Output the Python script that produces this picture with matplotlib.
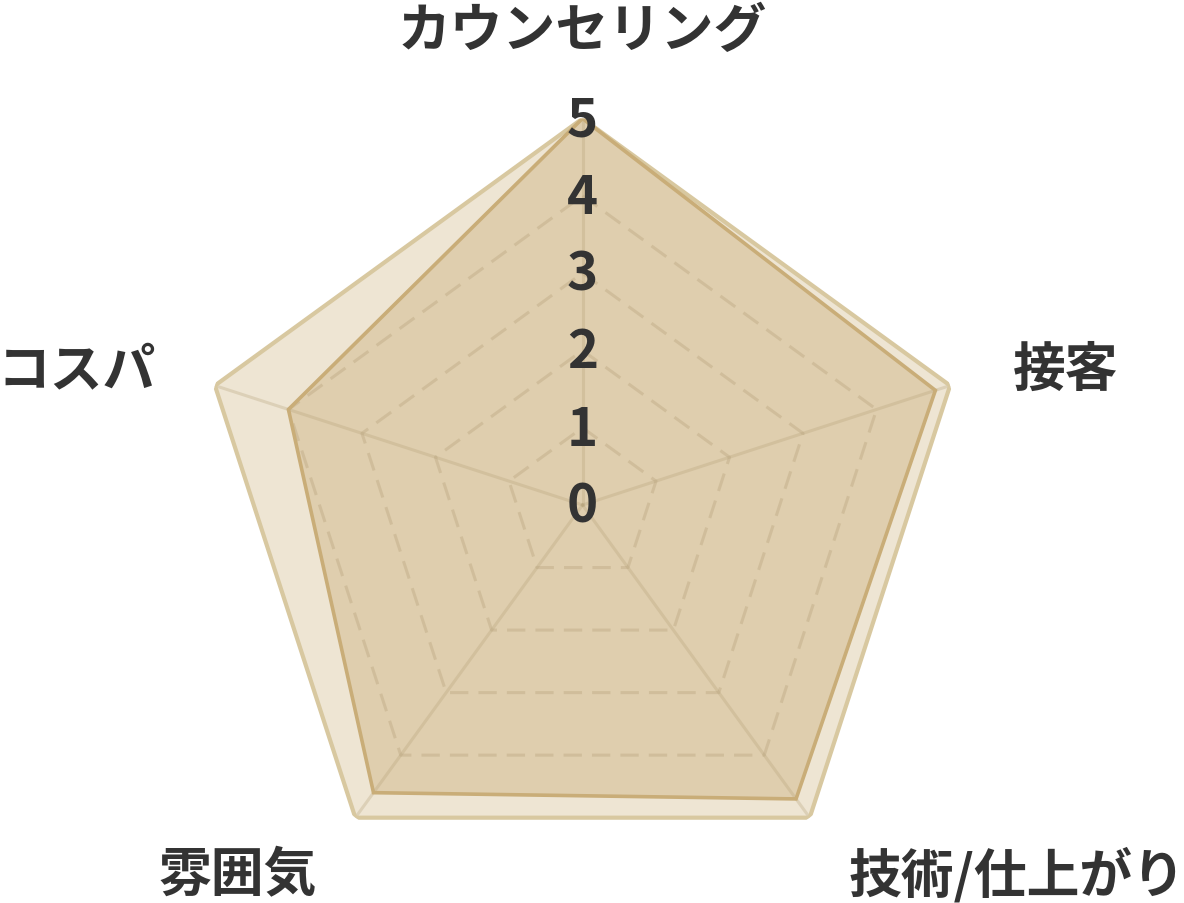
import numpy as np
import matplotlib
matplotlib.use("Agg")
import matplotlib.pyplot as plt

plt.rcParams['font.family'] = ['Noto Sans CJK JP', 'DejaVu Sans']

# data
categories = ['カウンセリング', '接客', '技術/仕上がり', '雰囲気', 'コスパ']
scores = [5.0, 4.8, 4.7, 4.6, 4.0]
max_scores = [5, 5, 5, 5, 5]
ticks = [0, 1, 2, 3, 4, 5]

n = len(categories)
theta = np.linspace(0, 2 * np.pi, n, endpoint=False)
theta_loop = np.append(theta, theta[0])

def loop(v):
    return np.append(v, v[0])

W, H = 1184, 904
fig = plt.figure(figsize=(W / 100, H / 100), dpi=100)
cx, cy, rad = 582.5, 506, 386.5
ax = fig.add_axes([(cx - rad) / W, (H - cy - rad) / H, 2 * rad / W, 2 * rad / H],
                  projection='polar')
ax.set_theta_zero_location('N')
ax.set_theta_direction(-1)
ax.set_ylim(0, 5)
ax.set_axis_off()

text_col = '#333333'

# outer (max) polygon
ax.fill(theta_loop, loop(max_scores), color=(215/255, 195/255, 150/255), alpha=0.42,
        lw=0, zorder=1)
ax.plot(theta_loop, loop(max_scores), color='#d8c8a0', lw=3, zorder=5,
        solid_joinstyle='miter')

# score polygon
ax.fill(theta_loop, loop(scores), color=(205/255, 180/255, 130/255), alpha=0.45,
        lw=0, zorder=2)
ax.plot(theta_loop, loop(scores), color='#c9ad78', lw=2.6, zorder=6,
        solid_joinstyle='miter')

# dashed grid
for lvl in ticks[1:-1]:
    ax.plot(theta_loop, [lvl] * (n + 1), color=(180/255, 160/255, 120/255),
            alpha=0.35, lw=2.2, linestyle=(0, (6, 3.3)), zorder=3)

# spokes
for t in theta:
    ax.plot([t, t], [0, 5], color=(180/255, 160/255, 120/255), alpha=0.3,
            lw=2.2, zorder=3)

# tick labels
for t in ticks:
    ax.annotate(str(t), xy=(0, t), xytext=(0, -1), textcoords='offset points',
                ha='center', va='center', fontsize=38, fontweight='bold',
                color=text_col, zorder=10, annotation_clip=False)

# category labels
ax.annotate(categories[0], xy=(theta[0], 6.16), xytext=(0, -1.5),
            textcoords='offset points', ha='center', va='center', fontsize=38,
            fontweight='bold', color=text_col, annotation_clip=False)
aligns = ['center', 'left', 'left', 'right', 'right']
shifts = [0, 0, 0, 0, 2]
for i in range(1, n):
    ax.annotate(categories[i], xy=(theta[i], 5.85), xytext=(shifts[i], -3),
                textcoords='offset points', ha=aligns[i], va='center',
                fontsize=38, fontweight='bold', color=text_col,
                annotation_clip=False)

fig.savefig('out.png', dpi=100, facecolor='white')
